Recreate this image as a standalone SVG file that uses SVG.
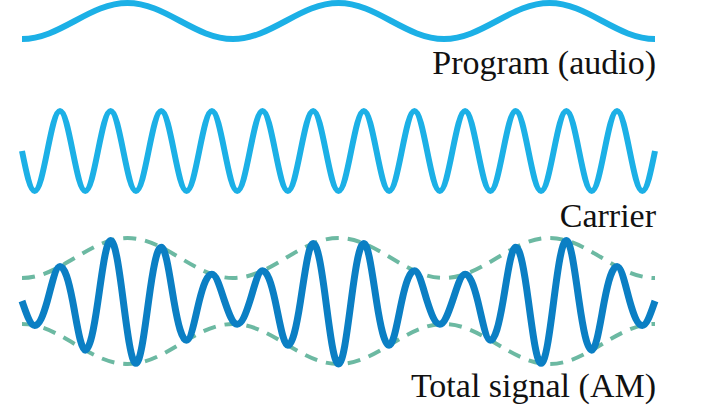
<svg xmlns="http://www.w3.org/2000/svg" width="725" height="409" viewBox="0 0 725 409">
<style>
.wave{fill:none;stroke-linejoin:round;stroke-linecap:butt}
.light{stroke:#1cb0e6;stroke-width:6}
.dark{stroke:#0b7fc4;stroke-width:7}
.env{fill:none;stroke:#6cb9a2;stroke-width:4;stroke-dasharray:13 9}
.lbl{font-family:"Liberation Serif","Times New Roman",serif;font-size:34px;fill:#111;text-anchor:end}
</style>
<rect width="725" height="409" fill="#fff"/>
<g id="program">
<path class="wave light" d="M22,39 c19.09,0 35.55,-8.78 52.75,-18 s33.66,-18 52.75,-18 s35.55,8.78 52.75,18 s33.66,18 52.75,18 s35.55,-8.78 52.75,-18 s33.66,-18 52.75,-18 s35.55,8.78 52.75,18 s33.66,18 52.75,18 s35.55,-8.78 52.75,-18 s33.66,-18 52.75,-18 s35.55,8.78 52.75,18 s33.66,18 52.75,18"/>
<text class="lbl" x="656" y="74">Program (audio)</text>
</g>
<g id="carrier">
<path class="wave light" d="M22,151 c4.13,20.49 8.08,40 12.66,40 s8.53,-19.51 12.66,-40 s8.08,-40 12.66,-40 s8.53,19.51 12.66,40 s8.08,40 12.66,40 s8.53,-19.51 12.66,-40 s8.08,-40 12.66,-40 s8.53,19.51 12.66,40 s8.08,40 12.66,40 s8.53,-19.51 12.66,-40 s8.08,-40 12.66,-40 s8.53,19.51 12.66,40 s8.08,40 12.66,40 s8.53,-19.51 12.66,-40 s8.08,-40 12.66,-40 s8.53,19.51 12.66,40 s8.08,40 12.66,40 s8.53,-19.51 12.66,-40 s8.08,-40 12.66,-40 s8.53,19.51 12.66,40 s8.08,40 12.66,40 s8.53,-19.51 12.66,-40 s8.08,-40 12.66,-40 s8.53,19.51 12.66,40 s8.08,40 12.66,40 s8.53,-19.51 12.66,-40 s8.08,-40 12.66,-40 s8.53,19.51 12.66,40 s8.08,40 12.66,40 s8.53,-19.51 12.66,-40 s8.08,-40 12.66,-40 s8.53,19.51 12.66,40 s8.08,40 12.66,40 s8.53,-19.51 12.66,-40 s8.08,-40 12.66,-40 s8.53,19.51 12.66,40 s8.08,40 12.66,40 s8.53,-19.51 12.66,-40 s8.08,-40 12.66,-40 s8.53,19.51 12.66,40 s8.08,40 12.66,40 s8.53,-19.51 12.66,-40 s8.08,-40 12.66,-40 s8.53,19.51 12.66,40 s8.08,40 12.66,40 s8.53,-19.51 12.66,-40 s8.08,-40 12.66,-40 s8.53,19.51 12.66,40 s8.08,40 12.66,40 s8.53,-19.51 12.66,-40"/>
<text class="lbl" x="656" y="227">Carrier</text>
</g>
<g id="total-signal">
<path class="env" d="M22,278 c19.09,0 35.55,-9.75 52.75,-20 s33.66,-20 52.75,-20 s35.55,9.75 52.75,20 s33.66,20 52.75,20 s35.55,-9.75 52.75,-20 s33.66,-20 52.75,-20 s35.55,9.75 52.75,20 s33.66,20 52.75,20 s35.55,-9.75 52.75,-20 s33.66,-20 52.75,-20 s35.55,9.75 52.75,20 s33.66,20 52.75,20"/>
<path class="env" d="M22,324 c19.09,0 35.55,9.75 52.75,20 s33.66,20 52.75,20 s35.55,-9.75 52.75,-20 s33.66,-20 52.75,-20 s35.55,9.75 52.75,20 s33.66,20 52.75,20 s35.55,-9.75 52.75,-20 s33.66,-20 52.75,-20 s35.55,9.75 52.75,20 s33.66,20 52.75,20 s35.55,-9.75 52.75,-20 s33.66,-20 52.75,-20"/>
<path class="wave dark" d="M22,301 c4.13,11.78 8.08,24.4 12.66,24.4 c4.58,0 8.53,-9.84 12.66,-24.4 c4.13,-14.56 8.08,-34.48 12.66,-34.48 c4.58,0 8.53,13.1 12.66,34.48 c4.13,21.38 8.08,49.18 12.66,49.18 c4.58,0 8.53,-20.62 12.66,-49.18 c4.13,-28.56 8.08,-60.53 12.66,-60.53 c4.58,0 8.53,28.34 12.66,60.53 c4.13,32.19 8.08,62.37 12.66,62.37 c4.58,0 8.53,-32.05 12.66,-62.37 c4.13,-30.32 8.08,-53.72 12.66,-53.72 c4.58,0 8.53,29.77 12.66,53.72 c4.13,23.95 8.08,39.25 12.66,39.25 c4.58,0 8.53,-22.71 12.66,-39.25 c4.13,-16.54 8.08,-26.82 12.66,-26.82 c4.58,0 8.53,14.71 12.66,26.82 c4.13,12.11 8.08,23.16 12.66,23.16 c4.58,0 8.53,-10.11 12.66,-23.16 c4.13,-13.05 8.08,-30.25 12.66,-30.25 c4.58,0 8.53,11.39 12.66,30.25 c4.13,18.86 8.08,44.26 12.66,44.26 c4.58,0 8.53,-17.87 12.66,-44.26 c4.13,-26.39 8.08,-57.58 12.66,-57.58 c4.58,0 8.53,26.02 12.66,57.58 c4.13,31.56 8.08,63 12.66,63 c4.58,0 8.53,-31.44 12.66,-63 c4.13,-31.56 8.08,-57.58 12.66,-57.58 c4.58,0 8.53,31.19 12.66,57.58 c4.13,26.39 8.08,44.26 12.66,44.26 c4.58,0 8.53,-25.4 12.66,-44.26 c4.13,-18.86 8.08,-30.25 12.66,-30.25 c4.58,0 8.53,17.2 12.66,30.25 c4.13,13.05 8.08,23.16 12.66,23.16 c4.58,0 8.53,-11.05 12.66,-23.16 c4.13,-12.11 8.08,-26.82 12.66,-26.82 c4.58,0 8.53,10.28 12.66,26.82 c4.13,16.54 8.08,39.25 12.66,39.25 c4.58,0 8.53,-15.3 12.66,-39.25 c4.13,-23.95 8.08,-53.72 12.66,-53.72 c4.58,0 8.53,23.4 12.66,53.72 c4.13,30.32 8.08,62.37 12.66,62.37 c4.58,0 8.53,-30.18 12.66,-62.37 c4.13,-32.19 8.08,-60.53 12.66,-60.53 c4.58,0 8.53,31.97 12.66,60.53 c4.13,28.56 8.08,49.18 12.66,49.18 c4.58,0 8.53,-27.8 12.66,-49.18 c4.13,-21.38 8.08,-34.48 12.66,-34.48 c4.58,0 8.53,19.92 12.66,34.48 c4.13,14.56 8.08,24.4 12.66,24.4 c4.58,0 8.53,-12.62 12.66,-24.4"/>
<text class="lbl" x="656" y="397">Total signal (AM)</text>
</g>
</svg>
